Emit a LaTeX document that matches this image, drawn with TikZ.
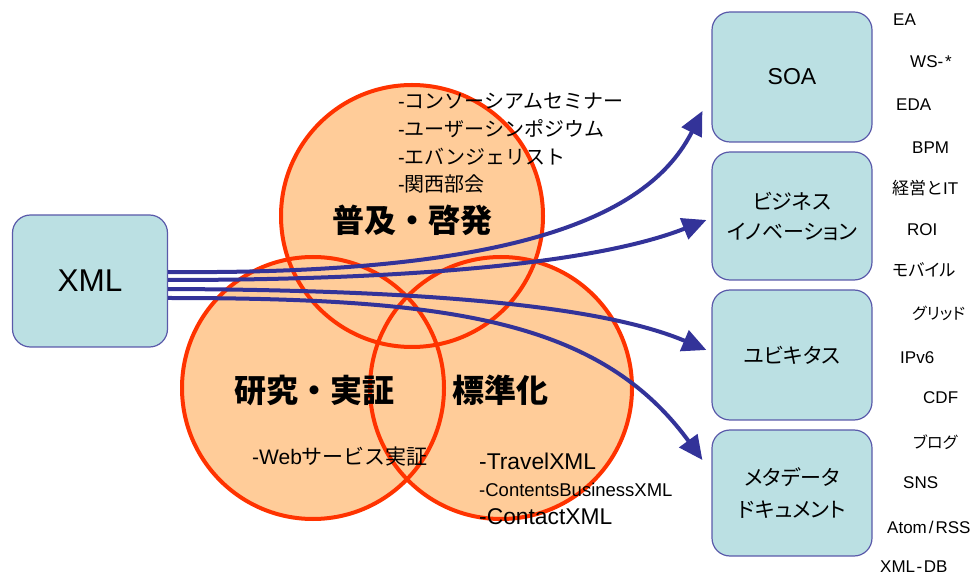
\documentclass[tikz,border=0pt]{standalone}
\usepackage{fontspec}
\setmainfont{Liberation Sans}
\newfontfamily\jp{Noto Sans CJK JP}
\newfontfamily\jpp[RawFeature=+palt]{Noto Sans CJK JP}
\usetikzlibrary{arrows.meta}
\definecolor{peach}{RGB}{255,204,153}
\definecolor{circred}{RGB}{255,51,0}
\definecolor{arrblue}{RGB}{51,51,153}
\definecolor{boxfill}{RGB}{187,224,227}
\definecolor{boxline}{RGB}{90,90,170}
\newcommand{\fs}[1]{\fontsize{#1}{#1}\selectfont}
\begin{document}
\begin{tikzpicture}[x=1pt,y=-1pt,
  box/.style={draw=boxline, line width=1.2pt, fill=boxfill, rounded corners=18pt,
    minimum width=160pt, align=center, inner sep=0pt},
  ring/.style={circle, fill=peach, minimum size=262pt, inner sep=0pt, outer sep=0pt},
  rim/.style={draw=circred, line width=4pt},
  conn/.style={draw=arrblue, line width=4pt, -{Triangle[length=24pt,width=22pt]}},
  tag/.style={anchor=west, inner sep=0pt},
  big/.style={inner sep=0pt, font=\jp\bfseries\fs{32}},
]
\useasboundingbox (0,0) rectangle (978,577);

% circles: fills first, then rims
\node[ring] (pop) at (412,216) {};
\node[ring] (res) at (313,388) {};
\node[ring] (std) at (501,388) {};
\draw[rim] (pop.center) circle[radius=131pt];
\draw[rim] (res.center) circle[radius=131pt];
\draw[rim] (std.center) circle[radius=131pt];

% circle titles
\node[big] (tpop) at (412,220) {普及・啓発};
\node[big] (tres) at (314,390) {研究・実証};
\node[big] (tstd) at (500,390) {標準化};

% circle lists
\node[tag] (l1) at (398,101) {\fs{20}-{\jp コンソーシアムセミナー}};
\node[tag] (l2) at (398,129) {\fs{20}-{\jp ユーザーシンポジウム}};
\node[tag] (l3) at (398,157) {\fs{20}-{\jp エバンジェリスト}};
\node[tag] (l4) at (398,184) {\fs{20}-{\jp 関西部会}};
\node[tag] (w1) at (252,457) {\fs{21}-Web{\jp サービス実証}};
\node[tag] (s1) at (479,461) {\fs{22.8}-TravelXML};
\node[tag] (s2) at (479,490) {\fs{18.5}-ContentsBusinessXML};
\node[tag] (s3) at (479,517) {\fs{22.8}-ContactXML};

% boxes
\node[box, minimum width=155pt, minimum height=132pt] (xml) at (90,281) {\fs{31.5}XML};
\node[box, minimum height=130pt] (soa) at (792,77) {\fs{23}SOA};
\node[box, minimum height=128pt, font={\jpp\fontsize{21}{30}\selectfont}] (biz) at (792,216)
  {ビジネス\\イノベーション};
\node[box, minimum height=130pt, font={\jpp\fs{21}}] (ubi) at (792,355) {ユビキタス};
\node[box, minimum height=126pt, font={\jpp\fontsize{21}{32}\selectfont}] (meta) at (792,493)
  {メタデータ\\ドキュメント};

% connectors
\draw[conn] ([yshift=9pt]xml.east) .. controls (520,275) and (650,215) .. ([xshift=-9pt,yshift=-34pt]soa.west);
\draw[conn] ([yshift=1pt]xml.east) .. controls (420,280) and (600,262) .. ([xshift=-5pt,yshift=-4pt]biz.west);
\draw[conn] ([yshift=-8pt]xml.east) .. controls (420,290) and (600,305) .. ([xshift=-5pt,yshift=5pt]ubi.west);
\draw[conn] ([yshift=-17pt]xml.east) .. controls (450,298) and (600,320) .. ([xshift=-9pt,yshift=33pt]meta.west);

% keyword list on the right
\node[tag] (k1)  at (893,20)  {\fs{17}EA};
\node[tag] (k2)  at (910,62)  {\fs{17}WS-\kern2pt*};
\node[tag] (k3)  at (896,105) {\fs{17}EDA};
\node[tag] (k4)  at (912,148) {\fs{17}BPM};
\node[tag] (k5)  at (892,188) {\fs{17}{\jp 経営と}IT};
\node[tag] (k6)  at (907,230) {\fs{17}ROI};
\node[tag] (k7)  at (892,270) {\jpp\fs{17}モバイル};
\node[tag] (k8)  at (912,313) {\jpp\fs{16}グリッド};
\node[tag] (k9)  at (900,358) {\fs{17}IPv6};
\node[tag] (k10) at (923,398) {\fs{17}CDF};
\node[tag] (k11) at (913,442) {\jpp\fs{16}ブログ};
\node[tag] (k12) at (903,483) {\fs{17}SNS};
\node[tag] (k13) at (887,527) {\fs{17}Atom\kern2pt/\kern2pt RSS};
\node[tag] (k14) at (880,567) {\fs{17}XML\kern1.5pt-\kern1.5pt DB};
\end{tikzpicture}
\end{document}
